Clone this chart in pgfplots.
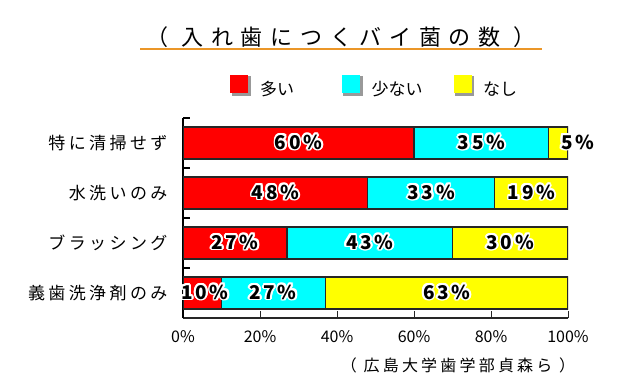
\documentclass[border=0pt]{standalone}
\usepackage{fontspec}
\setmainfont{Noto Sans CJK JP}
\usepackage{pgfplots}
\pgfplotsset{compat=1.18}
\usepackage{contour}
\contourlength{1.8pt}
\contournumber{16}
\definecolor{ulorange}{RGB}{235,150,40}
\definecolor{barred}{RGB}{255,0,0}
\definecolor{barcyan}{RGB}{0,255,255}
\definecolor{baryellow}{RGB}{255,255,0}
\begin{document}
\begin{tikzpicture}[x=1pt,y=1pt]
\path[use as bounding box] (0,0) rectangle (623,-391);
\node at (341,-37) {\fontsize{22}{22}\selectfont\addfontfeature{LetterSpace=35}（ 入れ歯につくバイ菌の数 ）};
\draw[ulorange, line width=1.3pt] (140,-49) -- (542,-49);
\node at (458,-365) {\fontsize{16}{16}\selectfont\addfontfeature{LetterSpace=20}（ 広島大学歯学部貞森ら ）};
\begin{axis}[
  at={(183pt,-318pt)}, anchor=south west,
  scale only axis, width=385pt, height=200pt,
  xbar stacked, bar width=32pt,
  xmin=0, xmax=100, ymin=-0.5, ymax=3.5,
  axis x line*=bottom, axis y line*=left,
  x axis line style={-, line width=1.6pt, black!85},
  y axis line style={-, line width=2.4pt, black},
  xtick={0,20,40,60,80,100},
  /pgf/number format/assume math mode=true,
  xticklabel={\pgfmathprintnumber{\tick}\%},
  xticklabel style={font=\fontsize{16}{16}\selectfont, yshift=-9pt},
  x tick style={line width=1pt, black!85},
  tick align=inside, major tick length=7pt,
  ytick={-0.5,0.5,1.5,2.5,3.5}, yticklabels={},
  y tick style={line width=1.4pt, black},
  extra y ticks={0,1,2,3},
  extra y tick labels={義歯洗浄剤のみ,ブラッシング,水洗いのみ,特に清掃せず},
  extra y tick style={tick style={draw=none}, tick label style={font=\fontsize{17}{17}\selectfont\addfontfeature{LetterSpace=20}, xshift=-12pt}},
  legend columns=3,
  legend style={draw=none, fill=none, at={(0.115,1.155)}, anchor=west,
    font=\fontsize{17}{17}\selectfont,
    /tikz/every odd column/.append style={column sep=7pt},
    /tikz/every even column/.append style={column sep=0pt}},
  legend image code/.code={
    \fill[black!40] (2pt,-6pt) rectangle (20pt,12pt);
    \fill[#1,draw=none] (0pt,-4pt) rectangle (18pt,14pt);},
]
\addplot[fill=barred, draw=black!85, line width=1.1pt] coordinates {(10,0) (27,1) (48,2) (60,3)};
\addlegendentry{\makebox[80pt][l]{多い}}
\addplot[fill=barcyan, draw=black!85, line width=1.1pt] coordinates {(27,0) (43,1) (33,2) (35,3)};
\addlegendentry{\makebox[80pt][l]{少ない}}
\addplot[fill=baryellow, draw=black!85, line width=1.1pt] coordinates {(63,0) (30,1) (19,2) (5,3)};
\addlegendentry{なし}
\end{axis}
\begin{axis}[
  at={(183pt,-318pt)}, anchor=south west,
  scale only axis, width=385pt, height=200pt,
  xmin=0, xmax=100, ymin=-0.5, ymax=3.5, hide axis,
  clip=false,
]
\addplot[only marks, mark=none, point meta=explicit symbolic,
  nodes near coords={\contour{white}{\pgfplotspointmeta}},
  every node near coord/.append style={anchor=center, font=\fontsize{19}{19}\selectfont\bfseries\addfontfeature{LetterSpace=14}}]
  coordinates {
  (30,3) [60\%] (77.5,3) [35\%] (102.5,3) [5\%]
  (24,2) [48\%] (64.5,2) [33\%] (90.5,2) [19\%]
  (13.5,1) [27\%] (48.5,1) [43\%] (85,1) [30\%]
  (5.7,0) [10\%] (23.4,0) [27\%] (68.5,0) [63\%]
  };
\end{axis}
\end{tikzpicture}
\end{document}
